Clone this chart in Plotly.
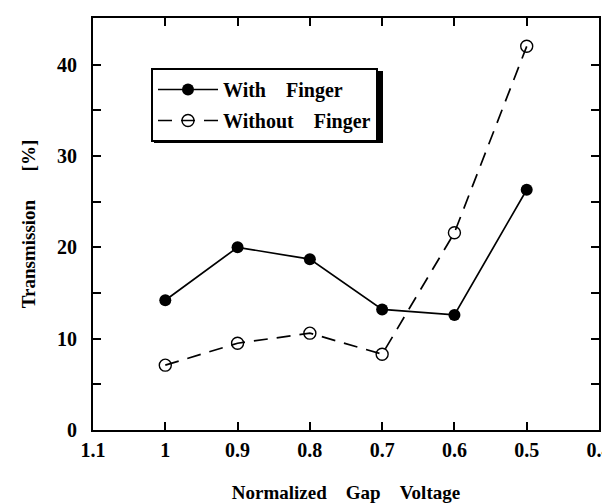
import plotly.graph_objects as go

voltage = [1.0, 0.9, 0.8, 0.7, 0.6, 0.5]
with_finger = [14.2, 20.0, 18.7, 13.2, 12.6, 26.3]
without_finger = [7.1, 9.5, 10.6, 8.3, 21.6, 42.0]

x_tick_vals = [1.1, 1.0, 0.9, 0.8, 0.7, 0.6, 0.5, 0.4]
x_tick_text = ["1.1", "1", "0.9", "0.8", "0.7", "0.6", "0.5", "0.4"]
y_tick_vals = [0, 10, 20, 30, 40]

FONT = "Liberation Serif"
NB = "\u00a0"

L, R, T, B = 85, 19, 10, 81
PW, PH = 610 - L - R, 503 - T - B

def px_x(p):
    return (p - L) / PW

def px_y(p):
    return (503 - B - p) / PH

fig = go.Figure()
fig.add_trace(go.Scatter(
    x=voltage, y=with_finger, mode="lines+markers",
    name="<b>With" + NB * 4 + "Finger</b>", legendgroup="a",
    line=dict(color="black", width=1.7),
    marker=dict(symbol="circle", size=12, color="black"),
))
fig.add_trace(go.Scatter(
    x=voltage, y=without_finger, mode="lines+markers",
    name="<b>Without" + NB * 4 + "Finger</b>", legendgroup="b",
    line=dict(color="black", width=1.7, dash="14px,9px"),
    marker=dict(symbol="circle-open", size=12, color="black", line=dict(width=1.4)),
))

# drop shadow of the legend box
fig.add_shape(type="rect", xref="paper", yref="paper",
              x0=px_x(146), x1=px_x(375), y0=px_y(135), y1=px_y(63),
              fillcolor="black", line=dict(width=0), layer="above")

fig.update_layout(
    width=610, height=503,
    margin=dict(l=L, r=R, t=T, b=B),
    paper_bgcolor="white", plot_bgcolor="white",
    font=dict(family=FONT, color="black", size=19),
    showlegend=True,
    legend=dict(
        x=px_x(143), y=px_y(60), xanchor="left", yanchor="top",
        bgcolor="white", bordercolor="black", borderwidth=2,
        font=dict(family=FONT, size=20, color="black"),
        itemwidth=60, traceorder="grouped", tracegroupgap=2,
    ),
    xaxis=dict(
        range=[1.1, 0.4], autorange=False, automargin=False,
        tickvals=x_tick_vals, ticktext=["<b>" + t + "</b>" for t in x_tick_text],
        ticks="inside", ticklen=8, tickwidth=2, tickcolor="black",
        showline=True, linecolor="black", linewidth=2, mirror="ticks",
        showgrid=False, zeroline=False, ticklabelstandoff=1,
        title=dict(text="<b>Normalized" + NB * 4 + "Gap" + NB * 4 + "Voltage</b>",
                   font=dict(size=19), standoff=26),
        tickfont=dict(size=20),
    ),
    yaxis=dict(
        range=[0, 45.1], autorange=False, automargin=False,
        tickvals=y_tick_vals, ticktext=["<b>%d</b>" % v for v in y_tick_vals],
        ticks="inside", ticklen=8, tickwidth=2, tickcolor="black",
        minor=dict(dtick=5, ticks="inside", ticklen=8, tickwidth=2, tickcolor="black"),
        showline=True, linecolor="black", linewidth=2, mirror="ticks",
        showgrid=False, zeroline=False, ticklabelstandoff=10,
        title=dict(text="<b>Transmission" + NB * 6 + "[%]</b>", font=dict(size=19), standoff=16),
        tickfont=dict(size=20),
    ),
)

fig.write_html("out.html")
